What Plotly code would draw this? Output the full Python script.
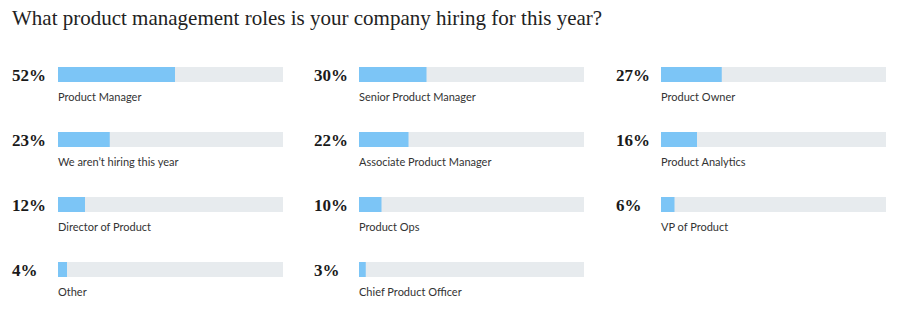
import plotly.graph_objects as go

roles = ["Product Manager", "Senior Product Manager", "Product Owner",
         "We aren’t hiring this year", "Associate Product Manager", "Product Analytics",
         "Director of Product", "Product Ops", "VP of Product",
         "Other", "Chief Product Officer"]
values = [52, 30, 27, 23, 22, 16, 12, 10, 6, 4, 3]

W, H = 921, 330
col_x = [(58, 283), (359, 584), (661, 886)]
pct_x = [10, 312, 614]
row_top = [67, 132, 197, 262]
bar_h = 15

FILL = "#7cc5f6"
TRACK = "#e7ebee"

fig = go.Figure()
annotations = []
for i, (role, v) in enumerate(zip(roles, values)):
    r, c = divmod(i, 3)
    n = i + 1
    xa = "x" if n == 1 else f"x{n}"
    ya = "y" if n == 1 else f"y{n}"
    fig.add_trace(go.Bar(x=[100], y=[0], orientation="h", marker_color=TRACK,
                         marker_line_width=0, width=1, xaxis=xa, yaxis=ya,
                         hoverinfo="skip", showlegend=False))
    fig.add_trace(go.Bar(x=[v], y=[0], orientation="h", marker_color=FILL,
                         marker_line_width=0, width=1, xaxis=xa, yaxis=ya,
                         showlegend=False, hovertemplate=f"{role}: {v}%<extra></extra>"))
    x0, x1 = col_x[c]
    top = row_top[r]
    bot = top + bar_h
    xk = "xaxis" if n == 1 else f"xaxis{n}"
    yk = "yaxis" if n == 1 else f"yaxis{n}"
    fig.layout[xk] = dict(domain=[x0 / W, x1 / W], range=[0, 100], visible=False,
                          fixedrange=True, anchor=ya)
    fig.layout[yk] = dict(domain=[1 - bot / H, 1 - top / H], range=[-0.5, 0.5],
                          visible=False, fixedrange=True, anchor=xa)
    annotations.append(dict(text=f"<b>{v}%</b>", x=pct_x[c] / W, y=1 - (top + bar_h / 2 + 0.5) / H,
                            xref="paper", yref="paper", xanchor="left", yanchor="middle",
                            showarrow=False,
                            font=dict(family="Liberation Serif", size=17, color="#1a1a1a")))
    annotations.append(dict(text=role, x=(x0 - 2) / W, y=1 - (top + 29.5) / H,
                            xref="paper", yref="paper", xanchor="left", yanchor="middle",
                            showarrow=False,
                            font=dict(family="Lato", size=11, color="#333333")))

annotations.append(dict(text="What product management roles is your company hiring for this year?",
                        x=10 / W, y=1 - 18 / H, xref="paper", yref="paper",
                        xanchor="left", yanchor="middle", showarrow=False,
                        font=dict(family="Liberation Serif", size=21, color="#222222")))

fig.update_layout(width=W, height=H, margin=dict(l=0, r=0, t=0, b=0),
                  paper_bgcolor="white", plot_bgcolor="white", barmode="overlay",
                  annotations=annotations)

fig.write_html("out.html")
